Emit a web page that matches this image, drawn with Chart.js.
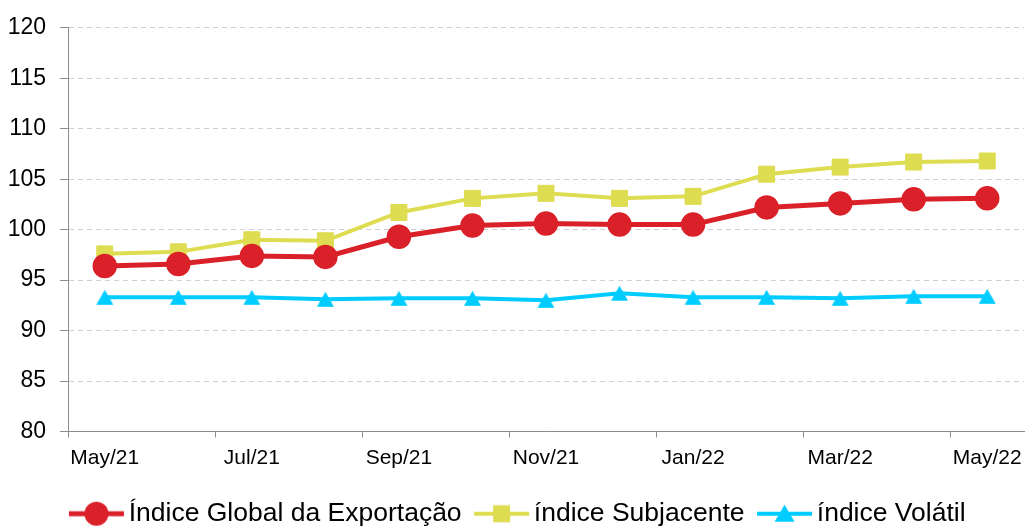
<!DOCTYPE html>
<html>
<head>
<meta charset="utf-8">
<script src="https://cdn.jsdelivr.net/npm/chart.js@4"></script>
<style>
  html, body { margin: 0; padding: 0; background: #fff; }
</style>
</head>
<body>
<canvas id="exportChart" width="1026" height="527"></canvas>
<script>
// Data
const months = ["May/21", "Jun/21", "Jul/21", "Aug/21", "Sep/21", "Oct/21", "Nov/21",
                "Dec/21", "Jan/22", "Feb/22", "Mar/22", "Apr/22", "May/22"];
const globalIndex = [96.4, 96.6, 97.4, 97.3, 99.3, 100.4, 100.6, 100.5, 100.5, 102.2, 102.6, 103.0, 103.1];
const coreIndex = [97.6, 97.8, 99.0, 98.9, 101.7, 103.1, 103.6, 103.1, 103.3, 105.5, 106.2, 106.7, 106.8];
const volatileIndex = [93.3, 93.3, 93.3, 93.1, 93.2, 93.2, 93.0, 93.7, 93.3, 93.3, 93.2, 93.4, 93.4];
const yTickValues = [80, 85, 90, 95, 100, 105, 110, 115, 120];
const seriesNames = ["Índice Global da Exportação", "índice Subjacente", "índice Volátil"];

const RED = "#da2028";
const YELLOW = "#dedc50";
const CYAN = "#00ccff";
const FONT = "'Liberation Sans', Arial, sans-serif";

// Excel-like triangle (centred in its box, unlike Chart.js' own triangle)
function triangleMarker(color, w, h) {
    const c = document.createElement("canvas");
    c.width = w + 2;
    c.height = h + 2;
    const g = c.getContext("2d");
    g.fillStyle = color;
    g.beginPath();
    g.moveTo(c.width / 2, 1);
    g.lineTo(c.width - 1, h + 1);
    g.lineTo(1, h + 1);
    g.closePath();
    g.fill();
    return c;
}

// Legend sample: a short line with the marker in the middle
function legendIcon(color, marker, lineWidth) {
    const c = document.createElement("canvas");
    c.width = 120;
    c.height = 30;
    const g = c.getContext("2d");
    const x0 = 42, x1 = 97, cx = 69.5, cy = 15;
    g.strokeStyle = color;
    g.fillStyle = color;
    g.lineWidth = lineWidth;
    g.beginPath();
    g.moveTo(x0, cy);
    g.lineTo(x1, cy);
    g.stroke();
    g.beginPath();
    if (marker === "circle") {
        g.arc(cx, cy, 12, 0, Math.PI * 2);
        g.fill();
    } else if (marker === "rect") {
        g.fillRect(cx - 8.5, cy - 8.5, 17, 17);
    } else {
        g.moveTo(cx, cy - 9);
        g.lineTo(cx + 10, cy + 8);
        g.lineTo(cx - 10, cy + 8);
        g.closePath();
        g.fill();
    }
    return c;
}

const legendIcons = [
    legendIcon(RED, "circle", 5),
    legendIcon(YELLOW, "rect", 4),
    legendIcon(CYAN, "triangle", 4)
];

const ctx = document.getElementById("exportChart").getContext("2d");

new Chart(ctx, {
    type: "line",
    data: {
        labels: months,
        datasets: [
            {
                label: seriesNames[0],
                data: globalIndex,
                borderColor: RED,
                backgroundColor: RED,
                borderWidth: 5,
                pointStyle: "circle",
                pointRadius: 11.5,
                pointBorderWidth: 1.5,
                tension: 0
            },
            {
                label: seriesNames[1],
                data: coreIndex,
                borderColor: YELLOW,
                backgroundColor: YELLOW,
                borderWidth: 4,
                pointStyle: "rect",
                pointRadius: 11.3,
                pointBorderWidth: 1,
                tension: 0
            },
            {
                label: seriesNames[2],
                data: volatileIndex,
                borderColor: CYAN,
                backgroundColor: CYAN,
                borderWidth: 4,
                pointStyle: triangleMarker(CYAN, 17, 15),
                tension: 0
            }
        ]
    },
    options: {
        responsive: false,
        animation: false,
        events: [],
        // legend box carries 10px of extra space below, pulled back with the negative bottom padding
        layout: { autoPadding: false, padding: { top: 26, right: 2, left: 0, bottom: -10 } },
        scales: {
            x: {
                offset: true,
                afterFit: scale => {
                    scale.height = 67;
                    scale.paddingLeft = 0;
                    scale.paddingRight = 0;
                },
                grid: {
                    offset: true,
                    drawOnChartArea: false,
                    tickLength: 6,
                    color: c => (c.index !== undefined && c.index % 2 === 0) ? "#8c8c8c" : "rgba(0,0,0,0)"
                },
                border: { color: "#8c8c8c", width: 1 },
                ticks: {
                    autoSkip: false,
                    maxRotation: 0,
                    padding: 8,
                    color: "#000",
                    font: { family: FONT, size: 21 },
                    callback: (value, i) => (i % 2 === 0 ? months[i] : "")
                }
            },
            y: {
                min: yTickValues[0],
                max: yTickValues[yTickValues.length - 1],
                afterFit: scale => { scale.width = 68; },
                afterBuildTicks: scale => {
                    scale.ticks = yTickValues.map(v => ({ value: v }));
                },
                grid: {
                    color: "#d0d0d0",
                    tickColor: "#8c8c8c",
                    tickLength: 8,
                    tickBorderDash: []
                },
                border: { color: "#8c8c8c", width: 1, dash: [5, 4] },
                ticks: {
                    padding: 14,
                    color: "#000",
                    font: { family: FONT, size: 23 }
                }
            }
        },
        plugins: {
            tooltip: { enabled: false },
            legend: {
                position: "bottom",
                labels: {
                    usePointStyle: true,
                    pointStyleWidth: 57,
                    padding: 2,
                    color: "#000",
                    font: { family: FONT, size: 26.5 },
                    generateLabels: chart => chart.data.datasets.map((ds, i) => ({
                        text: ds.label,
                        pointStyle: legendIcons[i],
                        fillStyle: ds.borderColor,
                        strokeStyle: ds.borderColor,
                        lineWidth: 0,
                        fontColor: "#000",
                        hidden: false,
                        datasetIndex: i
                    }))
                }
            }
        }
    }
});
</script>
</body>
</html>
